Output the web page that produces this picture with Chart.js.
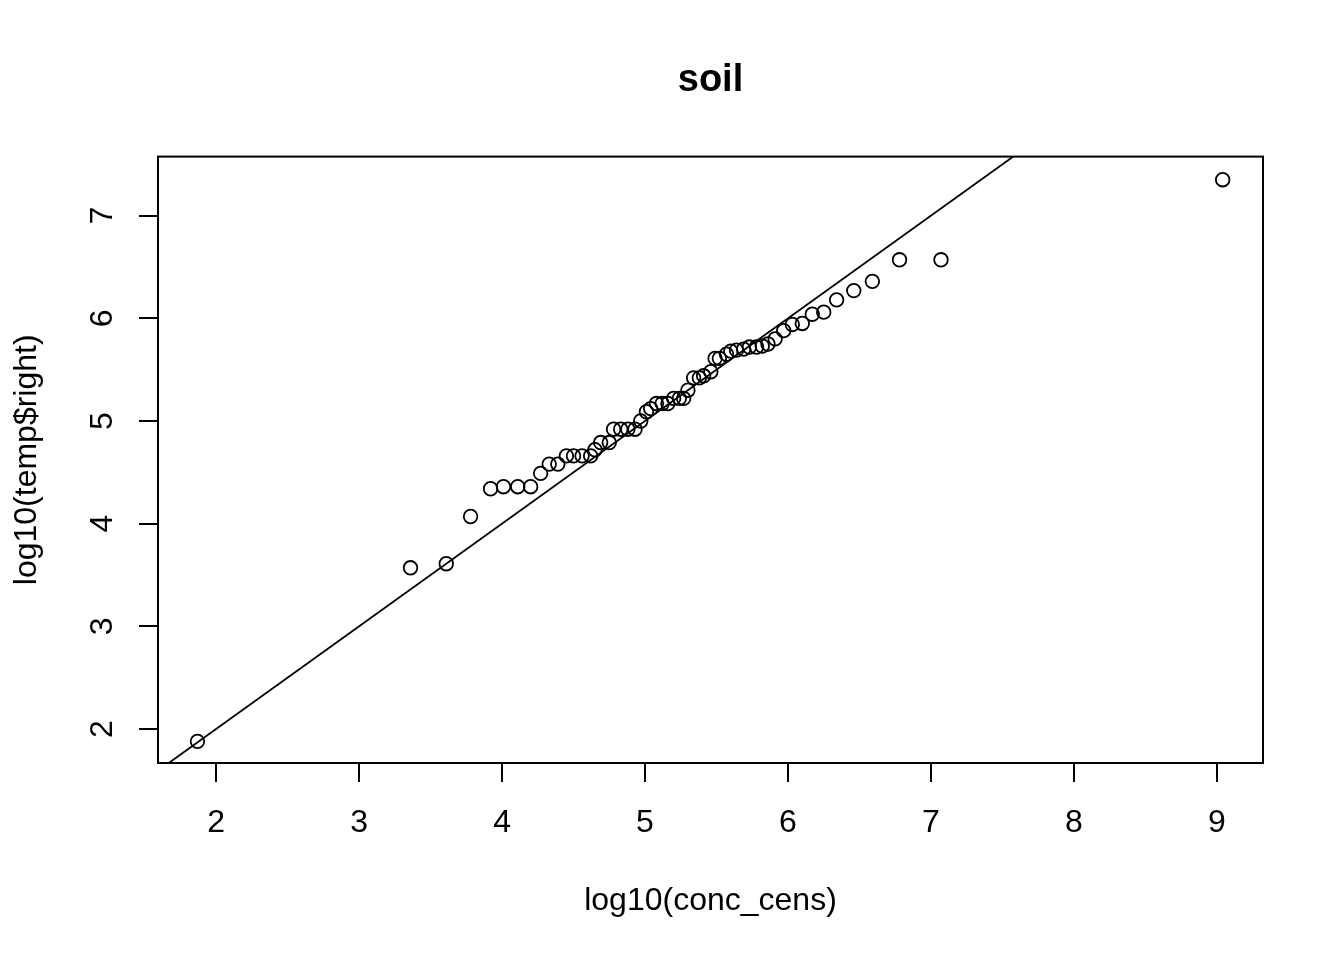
<!DOCTYPE html>
<html>
<head>
<meta charset="utf-8">
<script src="https://cdn.jsdelivr.net/npm/chart.js@4/dist/chart.umd.min.js"></script>
<style>
  html, body { margin: 0; padding: 0; background: #fff; }
  canvas { display: block; }
</style>
</head>
<body>
<canvas id="qq" width="1344" height="960"></canvas>
<script>
const CONC_X = [1.87, 3.36, 3.61, 3.78, 3.92, 4.01, 4.11, 4.20, 4.27, 4.33, 4.39, 4.45, 4.50, 4.56, 4.62,
  4.65, 4.69, 4.75, 4.78, 4.83, 4.88, 4.93, 4.97, 5.01, 5.04, 5.08, 5.12, 5.16, 5.20, 5.24, 5.27,
  5.30, 5.34, 5.38, 5.41, 5.46, 5.49, 5.52, 5.57, 5.60, 5.64, 5.69, 5.73, 5.78, 5.82, 5.86, 5.91,
  5.97, 6.03, 6.10, 6.17, 6.25, 6.34, 6.46, 6.59, 6.78, 7.07, 9.04];
const TEMP_Y = [1.88, 3.57, 3.61, 4.07, 4.34, 4.36, 4.36, 4.36, 4.49, 4.58, 4.58, 4.66, 4.66, 4.66, 4.66,
  4.72, 4.79, 4.79, 4.92, 4.92, 4.92, 4.92, 5.00, 5.09, 5.12, 5.17, 5.17, 5.17, 5.22, 5.22, 5.22,
  5.30, 5.42, 5.42, 5.44, 5.48, 5.61, 5.61, 5.65, 5.68, 5.69, 5.70, 5.72, 5.72, 5.73, 5.75, 5.80,
  5.88, 5.94, 5.95, 6.04, 6.06, 6.18, 6.27, 6.36, 6.57, 6.57, 7.35];
// reference line y = x, endpoints
const REF_LINE = [1.5, 9.5];
const X_TICKS = [2, 3, 4, 5, 6, 7, 8, 9];
const Y_TICKS = [2, 3, 4, 5, 6, 7];
const X_RANGE = [1.594, 9.322];
const Y_RANGE = [1.669, 7.575];

const FONT = 'Liberation Sans, Arial, Helvetica, sans-serif';

const points = CONC_X.map((x, i) => ({ x, y: TEMP_Y[i] }));
const line = REF_LINE.map(v => ({ x: v, y: v }));

// R style box + rotated y tick labels
const rBox = {
  id: 'rBox',
  afterDraw(chart) {
    const { ctx, chartArea: a, scales } = chart;
    ctx.save();
    ctx.strokeStyle = '#000';
    ctx.lineWidth = 2;
    ctx.strokeRect(a.left, a.top, a.right - a.left, a.bottom - a.top);
    ctx.fillStyle = '#000';
    ctx.font = '32px ' + FONT;
    ctx.textAlign = 'center';
    ctx.textBaseline = 'alphabetic';
    for (const v of Y_TICKS) {
      const py = scales.y.getPixelForValue(v);
      ctx.save();
      ctx.translate(112, py);
      ctx.rotate(-Math.PI / 2);
      ctx.fillText(String(v), 0, 0);
      ctx.restore();
    }
    ctx.restore();
  }
};

new Chart(document.getElementById('qq'), {
  type: 'scatter',
  data: {
    datasets: [
      {
        data: points,
        pointStyle: 'circle',
        pointRadius: 6.8,
        pointHoverRadius: 6.8,
        borderColor: '#000',
        borderWidth: 1.8,
        backgroundColor: 'rgba(0,0,0,0)',
      },
      {
        data: line,
        showLine: true,
        pointRadius: 0,
        borderColor: '#000',
        borderWidth: 1.8,
        clip: 0,
      }
    ]
  },
  options: {
    responsive: false,
    animation: false,
    events: [],
    layout: { padding: { left: 0, top: 0, right: 81, bottom: 0 } },
    plugins: {
      legend: { display: false },
      tooltip: { enabled: false },
      title: {
        display: true,
        fullSize: false,
        text: 'soil',
        color: '#000',
        font: { family: FONT, size: 38, weight: 'bold' },
        padding: { top: 58, bottom: 53 }
      }
    },
    scales: {
      x: {
        type: 'linear',
        min: X_RANGE[0], max: X_RANGE[1],
        afterBuildTicks: s => { s.ticks = X_TICKS.map(v => ({ value: v })); },
        afterFit: s => { s.height = 197; },
        grid: { display: true, drawOnChartArea: false, drawTicks: true, tickLength: 19, color: '#000', lineWidth: 2 },
        border: { display: false },
        ticks: { color: '#000', padding: 22, maxRotation: 0, autoSkip: false, font: { family: FONT, size: 32 } },
        title: { display: true, text: 'log10(conc_cens)', color: '#000', font: { family: FONT, size: 32 }, padding: { top: 0, bottom: 40 } }
      },
      y: {
        type: 'linear',
        min: Y_RANGE[0], max: Y_RANGE[1],
        afterBuildTicks: s => { s.ticks = Y_TICKS.map(v => ({ value: v })); },
        afterFit: s => { s.width = 158; },
        grid: { display: true, drawOnChartArea: false, drawTicks: true, tickLength: 19, color: '#000', lineWidth: 2 },
        border: { display: false },
        ticks: { display: false },
        title: { display: true, text: 'log10(temp$right)', color: '#000', font: { family: FONT, size: 32 }, padding: { top: 8, bottom: 0 } }
      }
    }
  },
  plugins: [rBox]
});
</script>
</body>
</html>
